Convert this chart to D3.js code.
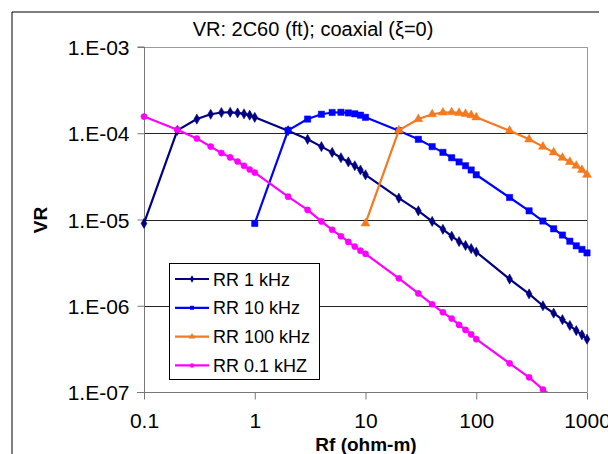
<!DOCTYPE html>
<html>
<head>
<meta charset="utf-8">
<script src="https://cdn.jsdelivr.net/npm/d3@7"></script>
<style>
  html, body { margin: 0; padding: 0; background: #fff; }
  svg { display: block; font-family: "Liberation Sans", Arial, sans-serif; }
</style>
</head>
<body>
<svg id="chart" width="608" height="454"></svg>
<script>
// ---------- data ----------
const rfValues = [0.1,0.2,0.3,0.4,0.5,0.6,0.7,0.8,0.9,
                  1,2,3,4,5,6,7,8,9,
                  10,20,30,40,50,60,70,80,90,
                  100,200,300,400,500,600,700,800,900,1000];

const rr1k = [9.0e-6,1.08e-4,1.46e-4,1.66e-4,1.74e-4,1.75e-4,1.72e-4,1.68e-4,1.62e-4,
              1.53e-4,1.07e-4,8.5e-5,7.0e-5,6.0e-5,5.2e-5,4.65e-5,4.2e-5,3.75e-5,
              3.3e-5,1.77e-5,1.26e-5,9.5e-6,7.7e-6,6.4e-6,5.55e-6,5.0e-6,4.6e-6,
              4.2e-6,2.04e-6,1.37e-6,1.0e-6,8.2e-7,6.9e-7,5.9e-7,5.15e-7,4.6e-7,4.1e-7];

const rr10k = [9.0e-6,1.08e-4,1.46e-4,1.66e-4,1.74e-4,1.75e-4,1.72e-4,1.68e-4,1.62e-4,
               1.53e-4,1.07e-4,8.5e-5,7.0e-5,6.0e-5,5.2e-5,4.65e-5,4.2e-5,3.75e-5,
               3.3e-5,1.8e-5,1.26e-5,9.6e-6,7.8e-6,6.6e-6,5.6e-6,4.95e-6,4.5e-6,4.1e-6];

const rr100k = [9.0e-6,1.08e-4,1.46e-4,1.66e-4,1.74e-4,1.75e-4,1.72e-4,1.68e-4,1.62e-4,
                1.53e-4,1.07e-4,8.5e-5,7.0e-5,6.0e-5,5.2e-5,4.65e-5,4.2e-5,3.75e-5,3.3e-5];

const rr01k = [1.56e-4,1.1e-4,8.7e-5,7.0e-5,5.9e-5,5.25e-5,4.7e-5,4.2e-5,3.8e-5,
               3.5e-5,1.84e-5,1.29e-5,9.5e-6,7.6e-6,6.4e-6,5.5e-6,4.85e-6,4.35e-6,
               4.0e-6,2.08e-6,1.39e-6,1.04e-6,8.4e-7,7.1e-7,6.0e-7,5.25e-7,4.65e-7,
               4.1e-7,2.15e-7,1.48e-7,1.07e-7,8.6e-8];

const seriesNames = ["RR 1 kHz","RR 10 kHz","RR 100 kHz","RR 0.1 kHZ"];
const xTickValues = [0.1,1,10,100,1000];
const xTickLabels = ["0.1","1","10","100","1000"];
const yTickValues = [1e-7,1e-6,1e-5,1e-4,1e-3];
const yTickLabels = ["1.E-07","1.E-06","1.E-05","1.E-04","1.E-03"];
const titleText = "VR: 2C60 (ft); coaxial (\u03BE=0)";
const xTitle = "Rf (ohm-m)";
const yTitle = "VR";

// ---------- layout ----------
const svg = d3.select("#chart");
const L = 144, R = 587, T = 47, B = 392;
const x = d3.scaleLog().domain([0.1,1000]).range([L,R]);
const y = d3.scaleLog().domain([1e-7,1e-3]).range([B,T]);

const series = [
  {name: seriesNames[0], xs: rfValues, ys: rr1k, color: "#000080", sym: d3.symbolDiamond, size: 30, lsize: 16},
  {name: seriesNames[1], xs: rfValues.slice(9), ys: rr10k, color: "#0000FF", sym: d3.symbolSquare, size: 40, lsize: 16},
  {name: seriesNames[2], xs: rfValues.slice(18), ys: rr100k, color: "#F5791E", sym: d3.symbolTriangle, size: 34, lsize: 18},
  {name: seriesNames[3], xs: rfValues.slice(0, rr01k.length), ys: rr01k, color: "#FF00FF", sym: d3.symbolCircle, size: 30, lsize: 16}
];

// outer chart border
svg.append("path").attr("d", "M12,470V12H599").attr("fill","none").attr("stroke","#000").attr("stroke-width",1);

// title
svg.append("text").attr("x", 313).attr("y", 36).attr("text-anchor","middle")
  .attr("font-size", 20).attr("fill","#000").text(titleText);

// gridlines
svg.append("g").selectAll("line").data([1e-6,1e-5,1e-4]).join("line")
  .attr("x1", L).attr("x2", R).attr("y1", d => Math.round(y(d))+0.5).attr("y2", d => Math.round(y(d))+0.5)
  .attr("stroke","#222").attr("stroke-width",1);
// plot area top/right border
svg.append("path").attr("d", `M${L},${T+0.5}H${R+0.5}V${B}`).attr("fill","none").attr("stroke","#999").attr("stroke-width",1);

// axes
const yAxis = d3.axisLeft(y).tickValues(yTickValues).tickFormat((d,i) => yTickLabels[i]).tickSize(7).tickPadding(8);
const gy = svg.append("g").attr("transform", `translate(${L+0.5},0)`).call(yAxis);
const xAxis = d3.axisBottom(x).tickValues(xTickValues).tickFormat((d,i) => xTickLabels[i]).tickSize(7).tickPadding(14);
const gx = svg.append("g").attr("transform", `translate(0,${B+0.5})`).call(xAxis);
[gx, gy].forEach(g => {
  g.select(".domain").attr("stroke","#777");
  g.selectAll(".tick line").attr("stroke","#777");
  g.selectAll(".tick text").attr("font-size", 21).attr("fill","#000")
    .attr("font-family", '"Liberation Sans", Arial, sans-serif');
});
gy.select(".domain").attr("d", `M-7,${T}H0V${B+7}`);
gx.select(".domain").attr("d", `M${L-7},0H${R}`);
gy.selectAll(".tick text").attr("dy", "0.36em");

// axis titles
svg.append("text").attr("x", 366).attr("y", 451).attr("text-anchor","middle")
  .attr("font-size", 19).attr("font-weight","bold").text(xTitle);
svg.append("text").attr("transform", "translate(47,220) rotate(-90)").attr("text-anchor","middle")
  .attr("font-size", 19).attr("font-weight","bold").text(yTitle);

// clip (vertical only)
svg.append("clipPath").attr("id","clipPlot").append("rect")
  .attr("x", 0).attr("y", T).attr("width", 608).attr("height", B - T);

const plot = svg.append("g").attr("clip-path","url(#clipPlot)");
const line = d3.line().x(d => x(d[0])).y(d => y(d[1]));

series.forEach(s => {
  const pts = s.xs.map((v,i) => [v, s.ys[i]]);
  plot.append("path").datum(pts).attr("d", line)
    .attr("fill","none").attr("stroke", s.color).attr("stroke-width", 2.2).attr("stroke-linejoin","round");
  plot.append("g").selectAll("path").data(pts).join("path")
    .attr("transform", d => `translate(${x(d[0])},${y(d[1])})`)
    .attr("d", d3.symbol().type(s.sym).size(s.size))
    .attr("fill", s.color).attr("stroke", s.color).attr("stroke-width", 0.5);
});

// legend
const lg = svg.append("g");
lg.append("rect").attr("x", 169.5).attr("y", 263.5).attr("width", 150).attr("height", 116)
  .attr("fill","#fff").attr("stroke","#000").attr("stroke-width",1);
series.forEach((s,i) => {
  const cy = 279 + i * 28.8;
  lg.append("line").attr("x1", 175).attr("x2", 209).attr("y1", cy).attr("y2", cy)
    .attr("stroke", s.color).attr("stroke-width", 2.2);
  lg.append("path").attr("transform", `translate(192,${cy})`)
    .attr("d", d3.symbol().type(s.sym).size(s.lsize)).attr("fill", s.color);
  lg.append("text").attr("x", 213).attr("y", cy + 6.5).attr("font-size", 18).attr("fill","#000").text(s.name);
});
</script>
</body>
</html>
